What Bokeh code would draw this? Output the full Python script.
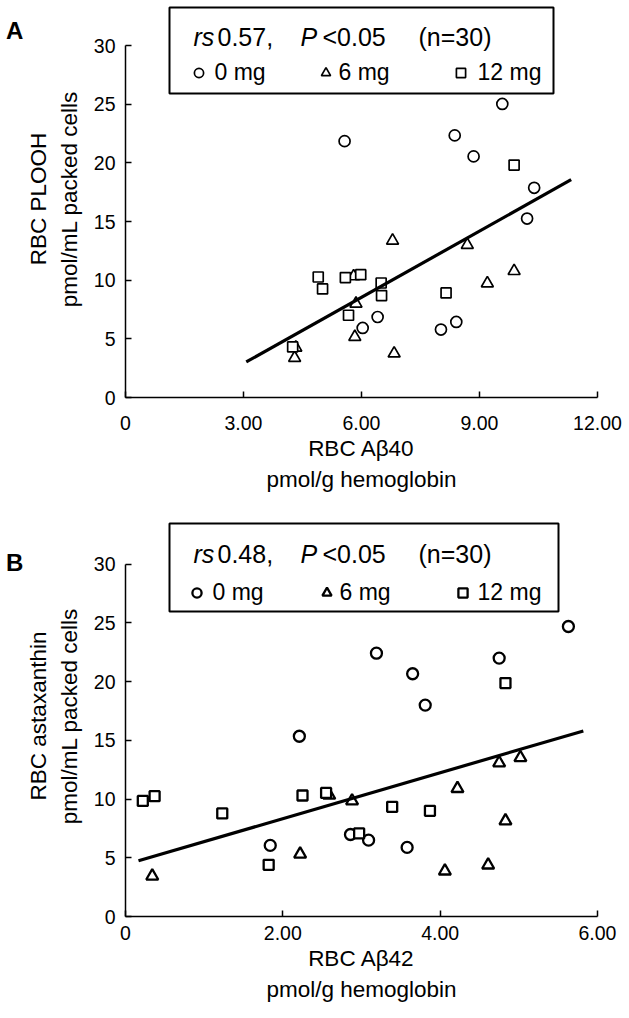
from bokeh.plotting import figure
from bokeh.models import Range1d, FixedTicker, BoxAnnotation, Label, Legend, LegendItem, Div
from bokeh.layouts import column, row
from bokeh.embed import file_html
from bokeh.resources import INLINE

FONT = "Liberation Sans"

# ---------------- Panel A data ----------------
a_x_0mg = [9.58, 5.57, 8.37, 8.85, 10.39, 10.21, 6.03, 6.41, 8.02, 8.41]
a_y_0mg = [25.02, 21.85, 22.34, 20.55, 17.87, 15.25, 5.93, 6.86, 5.79, 6.44]
a_x_6mg = [6.79, 8.69, 9.20, 9.88, 5.86, 5.83, 4.30, 6.83, 5.80, 4.33]
a_y_6mg = [13.37, 13.00, 9.73, 10.78, 8.00, 5.16, 3.37, 3.75, 10.33, 4.25]
a_x_12mg = [9.88, 4.90, 5.01, 5.59, 5.98, 6.50, 6.51, 8.15, 5.67, 4.25]
a_y_12mg = [19.81, 10.27, 9.25, 10.22, 10.47, 9.76, 8.69, 8.91, 7.01, 4.31]
a_fit_x = [3.07, 11.33]
a_fit_y = [3.03, 18.56]
a_x_ticks = [0, 3, 6, 9, 12]
a_x_tick_labels = ["0", "3.00", "6.00", "9.00", "12.00"]

# ---------------- Panel B data ----------------
b_x_0mg = [5.63, 3.19, 4.75, 3.65, 3.81, 2.21, 1.84, 2.86, 3.09, 3.58]
b_y_0mg = [24.68, 22.41, 21.99, 20.66, 17.99, 15.34, 6.05, 6.98, 6.50, 5.88]
b_x_6mg = [0.34, 2.22, 2.88, 4.22, 4.75, 5.02, 4.83, 4.06, 4.61, 2.59]
b_y_6mg = [3.44, 5.31, 9.84, 10.89, 13.07, 13.52, 8.14, 3.87, 4.38, 10.32]
b_x_12mg = [0.22, 0.37, 1.23, 1.82, 2.25, 2.55, 2.97, 3.39, 3.87, 4.83]
b_y_12mg = [9.84, 10.24, 8.77, 4.40, 10.30, 10.52, 7.07, 9.33, 8.99, 19.87]
b_fit_x = [0.165, 5.82]
b_fit_y = [4.74, 15.79]
b_x_ticks = [0, 2, 4, 6]
b_x_tick_labels = ["0", "2.00", "4.00", "6.00"]

y_ticks = [0, 5, 10, 15, 20, 25, 30]
y_tick_labels = ["0", "5", "10", "15", "20", "25", "30"]

groups = ["0 mg", "6 mg", "12 mg"]

OFF = 16          # width of the panel-letter column
FRAME_L, FRAME_R = 125, 597   # page x of the frame edges


def make_panel(xs, ys, fit_x, fit_y, x_ticks, x_tick_labels, x_max,
               x_title, y_title, stats, height, frame_h, y_zero_px, y_thirty_px,
               label_standoff_x, legend_px, mk_lw):
    width = 629 - OFF
    fl, fr = FRAME_L - OFF, FRAME_R - OFF
    y_per_px = 30.0 / (y_zero_px - y_thirty_px)
    y_top = frame_h * y_per_px
    p = figure(width=width, height=height, output_backend="svg", toolbar_location=None,
               x_range=Range1d(0, x_max), y_range=Range1d(0, y_top),
               min_border_left=fl, min_border_right=width - fr,
               min_border_top=0, min_border_bottom=height - frame_h)
    p.outline_line_color = None
    p.xgrid.visible = False
    p.ygrid.visible = False
    p.background_fill_color = "white"
    p.border_fill_color = None

    x_per_px = x_max / (FRAME_R - FRAME_L)

    def dx(px):  # page px -> data x
        return (px - FRAME_L) * x_per_px

    def dy(py):  # figure-relative px -> data y
        return (y_zero_px - py) * y_per_px

    for ax in (p.xaxis[0], p.yaxis[0]):
        ax.axis_line_width = 1.5
        ax.major_tick_line_width = 1.5
        ax.major_tick_in = 6
        ax.major_tick_out = 0
        ax.minor_tick_line_color = None
        ax.major_label_text_font = FONT
        ax.major_label_text_font_size = "19.5px"
        ax.major_label_text_color = "black"
        ax.axis_label_text_font = FONT
        ax.axis_label_text_font_size = "22.5px"
        ax.axis_label_text_font_style = "normal"
        ax.axis_label_text_color = "black"
        ax.axis_label_text_line_height = 1.25
    p.xaxis.ticker = FixedTicker(ticks=x_ticks)
    p.xaxis.major_label_overrides = dict(zip(x_ticks, x_tick_labels))
    p.xaxis.bounds = (0, x_max)
    p.xaxis.major_label_standoff = label_standoff_x
    p.xaxis.axis_label_standoff = 3
    p.xaxis.axis_label = x_title
    p.yaxis.ticker = FixedTicker(ticks=y_ticks)
    p.yaxis.major_label_overrides = dict(zip(y_ticks, y_tick_labels))
    p.yaxis.bounds = (0, 30)
    p.yaxis.major_label_standoff = 10
    p.yaxis.axis_label_standoff = 9
    p.yaxis.axis_label = y_title

    r0 = p.scatter(xs[0], ys[0], marker="circle", size=11, fill_color="white",
                   line_color="black", line_width=mk_lw)
    r6 = p.scatter(xs[1], ys[1], marker="triangle", size=12, fill_color="white",
                   line_color="black", line_width=mk_lw)
    r12 = p.scatter(xs[2], ys[2], marker="square", size=10, fill_color="white",
                    line_color="black", line_width=mk_lw)
    p.line(fit_x, fit_y, line_color="black", line_width=3.2)

    bx = legend_px["box"]
    p.add_layout(BoxAnnotation(left=dx(bx[0]), right=dx(bx[1]), top=dy(bx[2]), bottom=dy(bx[3]),
                               fill_color=None, fill_alpha=0, line_color="black",
                               line_alpha=1.0, line_width=2))
    for (txt, px, style) in stats:
        p.add_layout(Label(x=dx(px), y=dy(legend_px["title_base"]), text=txt,
                           text_font=FONT, text_font_size="25px", text_font_style=style,
                           text_color="black", text_baseline="alphabetic", text_align="left"))
    for r, name, (cx, standoff) in zip([r0, r6, r12], groups, legend_px["items"]):
        gl = 23
        lg = Legend(items=[LegendItem(label=name, renderers=[r])],
                    location=(cx - gl / 2 - FRAME_L, y_zero_px - legend_px["item_mid"] - gl / 2),
                    orientation="horizontal", border_line_color=None,
                    background_fill_alpha=0, padding=0, margin=0, spacing=0,
                    glyph_width=gl, glyph_height=gl, label_height=gl,
                    label_standoff=standoff, label_text_font=FONT,
                    label_text_font_size="23px", label_text_color="black",
                    label_text_baseline="middle")
        p.add_layout(lg)
    return p


def letter_div(letter, pad_top):
    html = ('<div style="padding:%dpx 0 0 6px; font-family:\'%s\'; font-size:24px; '
            'font-weight:bold; line-height:1; color:black; white-space:nowrap; '
            'overflow:visible;">%s</div>' % (pad_top, FONT, letter))
    return Div(text=html, width=OFF, height=60, margin=0, styles={"overflow": "visible"})


pa = make_panel(
    [a_x_0mg, a_x_6mg, a_x_12mg], [a_y_0mg, a_y_6mg, a_y_12mg],
    a_fit_x, a_fit_y, a_x_ticks, a_x_tick_labels, 12,
    "RBC A\u03b240\npmol/g hemoglobin", "RBC PLOOH\npmol/mL packed cells",
    [("rs", 193, "italic"), ("0.57,", 217, "normal"), ("P", 300, "italic"),
     ("<0.05", 322, "normal"), ("(n=30)", 418, "normal")],
    515, 397, 397, 45, 18,
    {"box": (169, 553, 7, 93), "title_base": 36, "item_mid": 74,
     "items": [(198, 5), (325, 2), (460, 6)]},
    1.7,
)

pb = make_panel(
    [b_x_0mg, b_x_6mg, b_x_12mg], [b_y_0mg, b_y_6mg, b_y_12mg],
    b_fit_x, b_fit_y, b_x_ticks, b_x_tick_labels, 6,
    "RBC A\u03b242\npmol/g hemoglobin", "RBC astaxanthin\npmol/mL packed cells",
    [("rs", 193, "italic"), ("0.48,", 217, "normal"), ("P", 300, "italic"),
     ("<0.05", 322, "normal"), ("(n=30)", 418, "normal")],
    503, 401, 401, 48.5, 9,
    {"box": (169, 558, 8, 96), "title_base": 38, "item_mid": 79,
     "items": [(196, 5), (326, 2), (462, 4)]},
    2.3,
)

layout = column(row(letter_div("A", 19), pa, spacing=0),
                row(letter_div("B", 36), pb, spacing=0), spacing=0)
open("out.html", "w").write(file_html(layout, INLINE))
